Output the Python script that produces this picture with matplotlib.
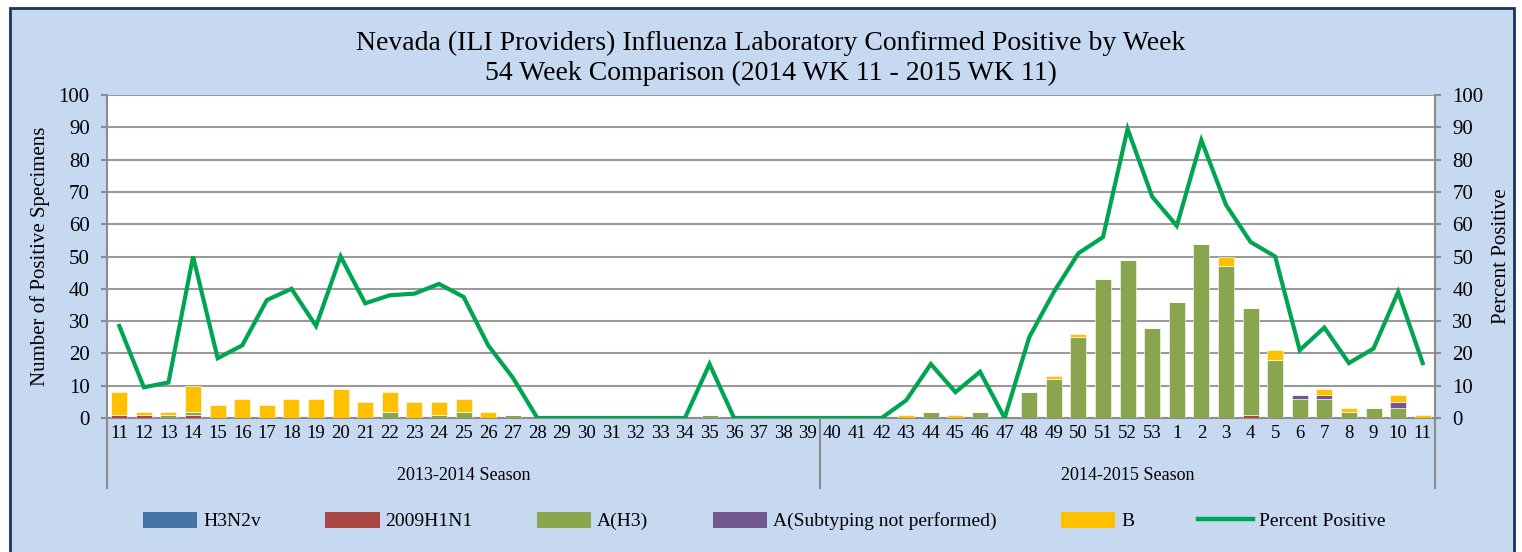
import numpy as np
import matplotlib.pyplot as plt
from matplotlib.patches import Rectangle, Patch
from matplotlib.lines import Line2D

plt.rcParams['font.family'] = ['Liberation Serif', 'DejaVu Serif']

weeks = [str(w) for w in range(11, 54)] + [str(w) for w in range(1, 12)]

h3n2v = [0] * 54
h1n1 = [1, 1, 0, 1, 0, 0, 0, 0, 0, 0, 0, 0, 0, 0, 0, 0, 0, 0, 0, 0, 0, 0, 0, 0, 0, 0, 0, 0, 0,
        0, 0, 0, 0, 0, 0, 0, 0, 0, 0, 0, 0, 0, 0,
        0, 0, 0, 1, 0, 0, 0, 0, 0, 0, 0]
ah3 = [0, 0, 1, 1, 0, 0, 0, 0, 0, 0, 0, 2, 0, 1, 2, 0, 1, 0, 0, 0, 0, 0, 0, 0, 1, 0, 0, 0, 0,
       0, 0, 0, 0, 2, 0, 2, 0, 8, 12, 25, 43, 49, 28,
       36, 54, 47, 33, 18, 6, 6, 2, 3, 3, 0]
a_nst = [0] * 43 + [0, 0, 0, 0, 0, 1, 1, 0, 0, 2, 0]
b = [7, 1, 1, 8, 4, 6, 4, 6, 6, 9, 5, 6, 5, 4, 4, 2, 0, 0, 0, 0, 0, 0, 0, 0, 0, 0, 0, 0, 0,
     0, 0, 0, 1, 0, 1, 0, 0, 0, 1, 1, 0, 0, 0,
     0, 0, 3, 0, 3, 0, 2, 1, 0, 2, 1]
pct = [28.5, 9.5, 11, 50, 18.5, 22.5, 36.5, 40, 28.5, 50, 35.5, 38, 38.5, 41.5, 37.5, 22.5, 12.5,
       0, 0, 0, 0, 0, 0, 0, 16.7, 0, 0, 0, 0,
       0, 0, 0, 5.5, 16.7, 8, 14.3, 0, 25, 39, 51, 56, 89.5, 68.5,
       59.5, 86, 66, 54.5, 50, 21, 28, 17, 21.5, 39, 17]

series = [('H3N2v', h3n2v, '#4572a7'), ('2009H1N1', h1n1, '#aa4643'),
          ('A(H3)', ah3, '#89a54e'), ('A(Subtyping not performed)', a_nst, '#71588f'),
          ('B', b, '#ffc000')]
line_color = '#00a551'

W, H = 1522, 552
fig = plt.figure(figsize=(W / 100, H / 100), dpi=100)
fig.patch.set_facecolor('white')
fig.patches.append(Rectangle((10 / W, -0.05), (1514 - 10) / W, (H - 8) / H + 0.05,
                             transform=fig.transFigure, facecolor='#c6d9f0',
                             edgecolor='#17365d', linewidth=2, zorder=-5))

ax = fig.add_axes([107 / W, (H - 418) / H, (1435 - 107) / W, (418 - 95) / H])
ax.set_facecolor('white')
x = np.arange(len(weeks))
bottom = np.zeros(len(weeks))
for name, vals, col in series:
    ax.bar(x, vals, width=0.65, bottom=bottom, color=col, edgecolor='white',
           linewidth=0.4, zorder=3)
    bottom += np.array(vals)

ax.set_xlim(-0.5, len(weeks) - 0.5)
ax.set_ylim(0, 100)
ax.set_yticks(range(0, 101, 10))
ax.grid(axis='y', color='#9a9a9a', linewidth=1.5, zorder=0)
ax.set_axisbelow(True)
ax.spines['top'].set_visible(False)
for s in ['left', 'right', 'bottom']:
    ax.spines[s].set_color('#8c8c8c')
    ax.spines[s].set_linewidth(1.5)
ax.tick_params(axis='y', labelsize=15, length=4.5, color='#8c8c8c', width=1.5, pad=8)
ax.set_xticks(x)
ax.set_xticklabels(weeks, fontsize=13.5)
ax.tick_params(axis='x', length=0, pad=5)
ax.set_ylabel('Number of Positive Specimens', fontsize=15, labelpad=6)

ax2 = ax.twinx()
ax2.set_ylim(0, 100)
ax2.set_yticks(range(0, 101, 10))
ax2.tick_params(axis='y', labelsize=15, length=4.5, color='#8c8c8c', width=1.5, pad=8)
for s in ax2.spines.values():
    s.set_visible(False)
ax2.plot(x, pct, color=line_color, linewidth=3.0, solid_joinstyle='miter', zorder=4)
ax2.set_ylabel('Percent Positive', fontsize=15, labelpad=6)

# season separators and labels
n_first = 29
sep_y = -(488 - 418) / (418 - 95)
for xs in [-0.5, n_first - 0.5, len(weeks) - 0.5]:
    ax.plot([xs, xs], [0, sep_y], transform=ax.get_xaxis_transform(), color='#8c8c8c',
            linewidth=1.5, clip_on=False)
lab_y = -(476 - 418) / (418 - 95)
ax.text((n_first - 1) / 2, lab_y, '2013-2014 Season', transform=ax.get_xaxis_transform(),
        ha='center', va='center', fontsize=13)
ax.text((n_first + len(weeks) - 1) / 2, lab_y, '2014-2015 Season',
        transform=ax.get_xaxis_transform(), ha='center', va='center', fontsize=13)

fig.text((107 + 1435) / 2 / W, (H - 43) / H, 'Nevada (ILI Providers) Influenza Laboratory Confirmed Positive by Week',
         ha='center', va='center', fontsize=20)
fig.text((107 + 1435) / 2 / W, (H - 73) / H, '54 Week Comparison (2014 WK 11 - 2015 WK 11)',
         ha='center', va='center', fontsize=20)

handles = [Patch(facecolor=c, edgecolor='none') for _, _, c in series]
handles.append(Line2D([0], [0], color=line_color, linewidth=3.2))
labels = [n for n, _, _ in series] + ['Percent Positive']
fig.legend(handles, labels, loc='center', bbox_to_anchor=((150 + 1378) / 2 / W, (H - 521) / H),
           ncol=6, frameon=False, fontsize=14, handlelength=2.8, handleheight=0.9,
           columnspacing=3.3, handletextpad=0.3)

fig.savefig('out.png', dpi=100)
